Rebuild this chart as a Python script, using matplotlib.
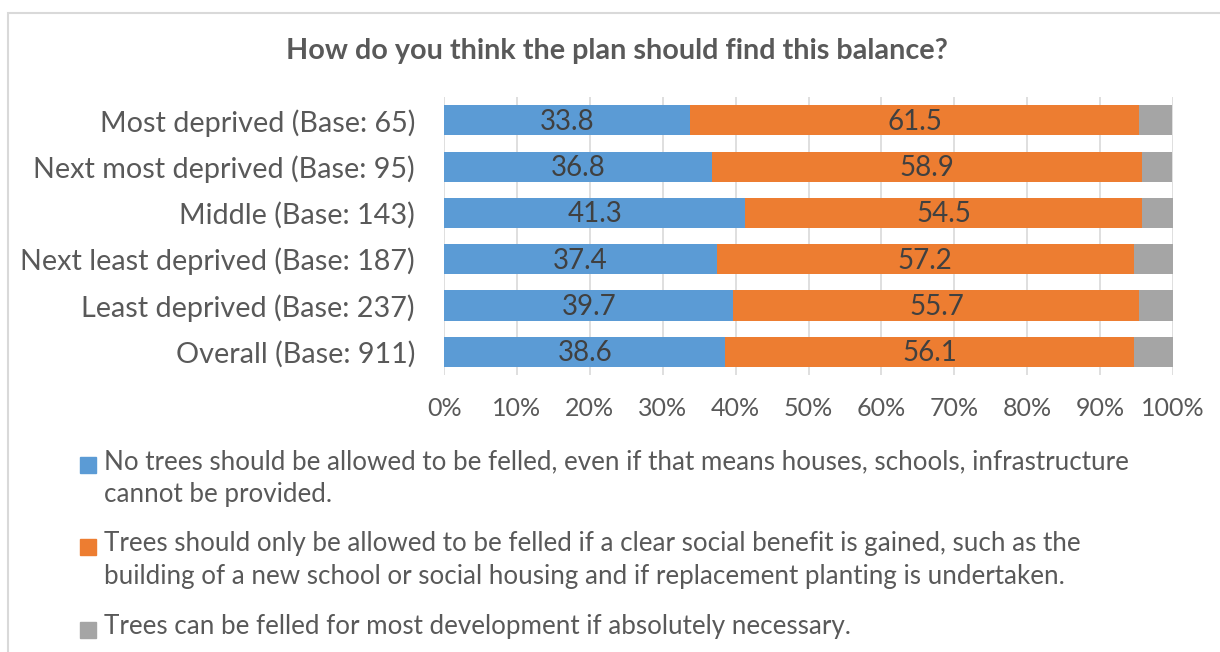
import matplotlib
import matplotlib.pyplot as plt
import numpy as np
from matplotlib.patches import Rectangle

matplotlib.use('Agg')
plt.rcParams['font.family'] = ['Lato', 'DejaVu Sans']

categories = ['Most deprived (Base: 65)', 'Next most deprived (Base: 95)', 'Middle (Base: 143)',
              'Next least deprived (Base: 187)', 'Least deprived (Base: 237)', 'Overall (Base: 911)']
no_felling = [33.8, 36.8, 41.3, 37.4, 39.7, 38.6]
social_benefit = [61.5, 58.9, 54.5, 57.2, 55.7, 56.1]
most_development = [4.6, 4.2, 4.2, 5.4, 4.6, 5.3]

series_names = ['No trees should be allowed to be felled, even if that means houses, schools, infrastructure\ncannot be provided.',
                'Trees should only be allowed to be felled if a clear social benefit is gained, such as the\nbuilding of a new school or social housing and if replacement planting is undertaken.',
                'Trees can be felled for most development if absolutely necessary.']
colors = ['#5b9bd5', '#ed7d31', '#a5a5a5']
text_c = '#595959'

fig = plt.figure(figsize=(12.2, 6.52), dpi=100)
ax = fig.add_axes([0.364, 0.425, 0.5975, 0.426])

y = np.arange(len(categories))
left = np.zeros(len(categories))
for vals, c in zip([no_felling, social_benefit, most_development], colors):
    vals = np.array(vals)
    ax.barh(y, vals, left=left, height=0.65, color=c, zorder=2)
    if c != colors[2]:
        for yi, l, v in zip(y, left, vals):
            ax.text(l + v / 2, yi + 0.03, f'{v:.1f}', ha='center', va='center', fontsize=20, color='#404040', zorder=3)
    left += vals

ax.set_xlim(0, 100)
ax.set_ylim(len(categories) - 0.5, -0.5)
ax.set_xticks(np.arange(0, 101, 10))
ax.set_xticklabels([f'{t}%' for t in range(0, 101, 10)])
ax.set_yticks(y)
ax.set_yticklabels(categories, va='center_baseline')
ax.grid(axis='x', color='#d9d9d9', lw=1.2, zorder=0)
for s in ax.spines.values():
    s.set_visible(False)
ax.tick_params(axis='both', length=0, labelcolor=text_c)
ax.tick_params(axis='x', pad=16, labelsize=18)
ax.tick_params(axis='y', pad=21, labelsize=20.7)

fig.text(0.506, 0.922, 'How do you think the plan should find this balance?', ha='center', va='center',
         fontsize=20.7, fontweight='bold', color=text_c)

# legend
leg_y = [465, 547, 630]
for name, c, ly in zip(series_names, colors, leg_y):
    fig.patches.append(Rectangle((80 / 1220, 1 - (ly + 8) / 652), 16 / 1220, 16 / 652,
                                 transform=fig.transFigure, color=c))
    fig.text(104 / 1220, 1 - (ly - 16) / 652, name, ha='left', va='top', fontsize=18.7, color=text_c,
             linespacing=1.42)

# chart frame
fig.patches.append(Rectangle((8 / 1220, -0.1), 1.2, 1 - 13 / 652 + 0.1, transform=fig.transFigure,
                             fill=False, ec='#d9d9d9', lw=1.5))

fig.savefig('out.png', dpi=100)
